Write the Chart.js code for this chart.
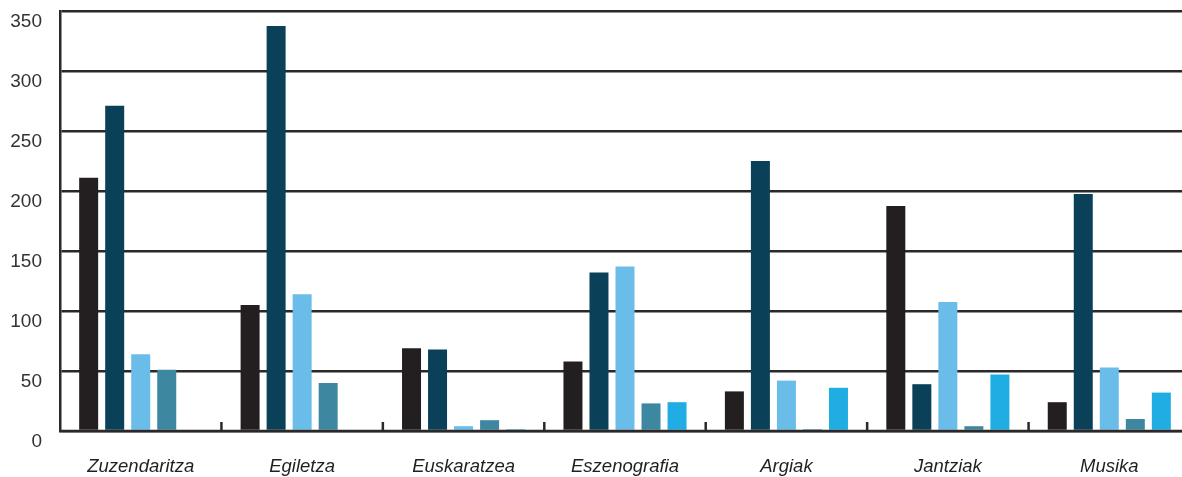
<!DOCTYPE html>
<html>
<head>
<meta charset="utf-8">
<script src="https://cdn.jsdelivr.net/npm/chart.js@4"></script>
<style>
  html, body { margin: 0; padding: 0; background: #fff; overflow: hidden; }
  #wrap { width: 1182px; height: 477px; overflow: hidden; position: relative; }
  canvas { position: absolute; left: 0; top: 0; }
</style>
</head>
<body>
<div id="wrap"><canvas id="chart" width="1190" height="477"></canvas></div>
<script>
// categories and series
const categories = ['Zuzendaritza', 'Egiletza', 'Euskaratzea', 'Eszenografia', 'Argiak', 'Jantziak', 'Musika'];
const series1 = [211, 105, 69, 58, 33, 187.5, 24];
const series2 = [271, 337.5, 68, 132, 225, 39, 197.5];
const series3 = [64, 114, 4, 137, 42, 107.5, 53];
const series4 = [51, 40, 9, 23, 1.5, 4, 10];
const series5 = [null, null, 1.5, 24, 36, 47, 32];
const yTicks = [0, 50, 100, 150, 200, 250, 300, 350];

const lineColor = '#2b2829';

// small tick marks between groups, drawn upward from the x axis
const groupTicks = {
    id: 'groupTicks',
    afterDatasetsDraw(chart) {
        const x = chart.scales.x;
        const ctx = chart.ctx;
        const bottom = chart.chartArea.bottom;
        ctx.save();
        ctx.strokeStyle = lineColor;
        ctx.lineWidth = 2.5;
        for (let i = 1; i < categories.length; i++) {
            let px = (x.getPixelForValue(i - 1) + x.getPixelForValue(i)) / 2;
            ctx.beginPath();
            ctx.moveTo(px, bottom - 9);
            ctx.lineTo(px, bottom);
            ctx.stroke();
        }
        ctx.beginPath();
        ctx.moveTo(chart.chartArea.left, bottom);
        ctx.lineTo(chart.chartArea.right, bottom);
        ctx.stroke();
        ctx.restore();
    }
};

let canvas = document.getElementById('chart');

let chart = new Chart(canvas, {
    type: 'bar',
    data: {
        labels: categories,
        datasets: [
            { data: series1, backgroundColor: '#231f20' },
            { data: series2, backgroundColor: '#0a4058' },
            { data: series3, backgroundColor: '#6bbde9' },
            { data: series4, backgroundColor: '#3e87a0' },
            { data: series5, backgroundColor: '#20ade3' }
        ]
    },
    options: {
        responsive: false,
        animation: false,
        devicePixelRatio: 1,
        categoryPercentage: 0.806,
        barPercentage: 0.73,
        layout: { padding: { top: 11, right: 0, left: 0, bottom: 0 } },
        plugins: {
            legend: { display: false },
            tooltip: { enabled: false }
        },
        scales: {
            x: {
                grid: { display: false, drawTicks: false },
                border: { display: false },
                ticks: {
                    padding: 25,
                    color: '#231f20',
                    font: { family: 'Liberation Sans', size: 18.5, style: 'italic' }
                },
                afterFit: (s) => { s.height = 46; s.paddingLeft = 0; s.paddingRight = 0; }
            },
            y: {
                min: 0,
                max: 350,
                afterBuildTicks: (s) => { s.ticks = yTicks.map(v => ({ value: v })); },
                grid: { color: lineColor, lineWidth: 2.5, drawTicks: false },
                border: { display: true, color: lineColor, width: 2.5 },
                ticks: {
                    padding: 18,
                    labelOffset: 11,
                    color: '#333',
                    font: { family: 'Liberation Sans', size: 19 }
                },
                afterFit: (s) => { s.width = 60; s.paddingTop = 0; s.paddingBottom = 0; }
            }
        }
    },
    plugins: [groupTicks]
});
</script>
</body>
</html>
